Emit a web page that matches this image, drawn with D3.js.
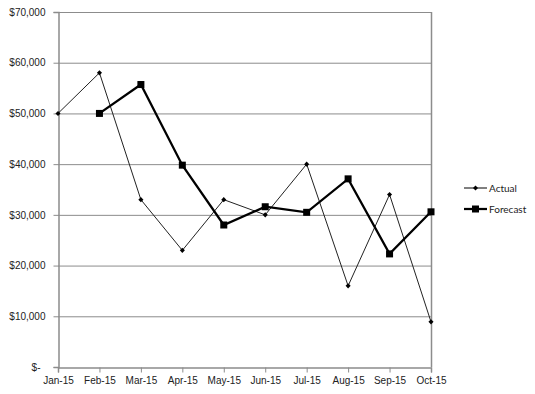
<!DOCTYPE html>
<html>
<head>
<meta charset="utf-8">
<script src="https://cdn.jsdelivr.net/npm/d3@7"></script>
<style>
  body { margin: 0; background: #fff; }
  svg { display: block; font-family: Lato, "Open Sans", sans-serif; }
  .tick text { font-size: 10px; fill: #222; }
</style>
</head>
<body>
<svg id="chart" width="535" height="394"></svg>
<script>
// chart data
const months = ['Jan-15', 'Feb-15', 'Mar-15', 'Apr-15', 'May-15', 'Jun-15', 'Jul-15', 'Aug-15', 'Sep-15', 'Oct-15'];
const actual = [50000, 58000, 33000, 23000, 33000, 30000, 40000, 16000, 34000, 8900];
const forecast = [null, 50000, 55700, 39800, 28000, 31600, 30500, 37100, 22300, 30600];
const yTicks = [0, 10000, 20000, 30000, 40000, 50000, 60000, 70000];

const svg = d3.select('#chart');
const margin = { top: 12, right: 104, bottom: 27, left: 58 };
const width = 535 - margin.left - margin.right;
const height = 394 - margin.top - margin.bottom;

const g = svg.append('g').attr('transform', `translate(${margin.left},${margin.top})`);

const x = d3.scalePoint().domain(months).range([0, width]);
const y = d3.scaleLinear().domain([0, 70000]).range([height, 0]);

const fmt = d => d === 0 ? '$-\u2002' : '$' + d3.format(',')(d);

// gridlines
g.append('g')
  .selectAll('line')
  .data(yTicks.filter(d => d > 0))
  .join('line')
  .attr('x1', 0).attr('x2', width)
  .attr('y1', d => y(d) + 0.5).attr('y2', d => y(d) + 0.5)
  .attr('stroke', '#8c8c8c').attr('stroke-width', 1);

// right edge of plot area
g.append('line')
  .attr('x1', width + 0.5).attr('x2', width + 0.5)
  .attr('y1', 0).attr('y2', height)
  .attr('stroke', '#8c8c8c').attr('stroke-width', 1.5);

// axes
const yAxis = g.append('g')
  .attr('transform', 'translate(0.5,0)')
  .call(d3.axisLeft(y).tickValues(yTicks).tickFormat(fmt).tickSize(5).tickPadding(8));
const xAxis = g.append('g')
  .attr('transform', `translate(0,${height + 0.5})`)
  .call(d3.axisBottom(x).tickSize(5).tickPadding(4));
[yAxis, xAxis].forEach(a => {
  a.select('.domain').attr('stroke', '#8c8c8c').attr('stroke-width', 1.5);
  a.selectAll('.tick line').attr('stroke', '#8c8c8c');
});

// series
const line = d3.line()
  .defined(d => d.v != null)
  .x(d => x(d.m))
  .y(d => y(d.v));

const actualPts = months.map((m, i) => ({ m, v: actual[i] }));
const forecastPts = months.map((m, i) => ({ m, v: forecast[i] })).filter(d => d.v != null);

g.append('path').datum(actualPts)
  .attr('d', line).attr('fill', 'none')
  .attr('stroke', '#222').attr('stroke-width', 1);
g.append('g').selectAll('rect')
  .data(actualPts)
  .join('rect')
  .attr('x', d => x(d.m) - 1.8).attr('y', d => y(d.v) - 1.8)
  .attr('width', 3.6).attr('height', 3.6)
  .attr('transform', d => `rotate(45,${x(d.m)},${y(d.v)})`)
  .attr('fill', '#000');

g.append('path').datum(forecastPts)
  .attr('d', line).attr('fill', 'none')
  .attr('stroke', '#000').attr('stroke-width', 2.25);
g.append('g').selectAll('rect')
  .data(forecastPts)
  .join('rect')
  .attr('x', d => x(d.m) - 3.5).attr('y', d => y(d.v) - 3.5)
  .attr('width', 7).attr('height', 7)
  .attr('fill', '#000');

// legend
const legend = svg.append('g').attr('transform', 'translate(464,188)');
const items = [
  { name: 'Actual', w: 1, s: 3.6, rot: true },
  { name: 'Forecast', w: 2.25, s: 7, rot: false }
];
items.forEach((it, i) => {
  const row = legend.append('g').attr('transform', `translate(0,${i * 21})`);
  row.append('line').attr('x1', 0).attr('x2', 23).attr('y1', 0).attr('y2', 0)
    .attr('stroke', '#000').attr('stroke-width', it.w);
  row.append('rect')
    .attr('x', 11.5 - it.s / 2).attr('y', -it.s / 2)
    .attr('width', it.s).attr('height', it.s)
    .attr('transform', it.rot ? 'rotate(45,11.5,0)' : null)
    .attr('fill', '#000');
  row.append('text').attr('x', 25).attr('y', 0).attr('dy', '0.35em')
    .attr('font-size', 10).attr('fill', '#222').text(it.name);
});
</script>
</body>
</html>
